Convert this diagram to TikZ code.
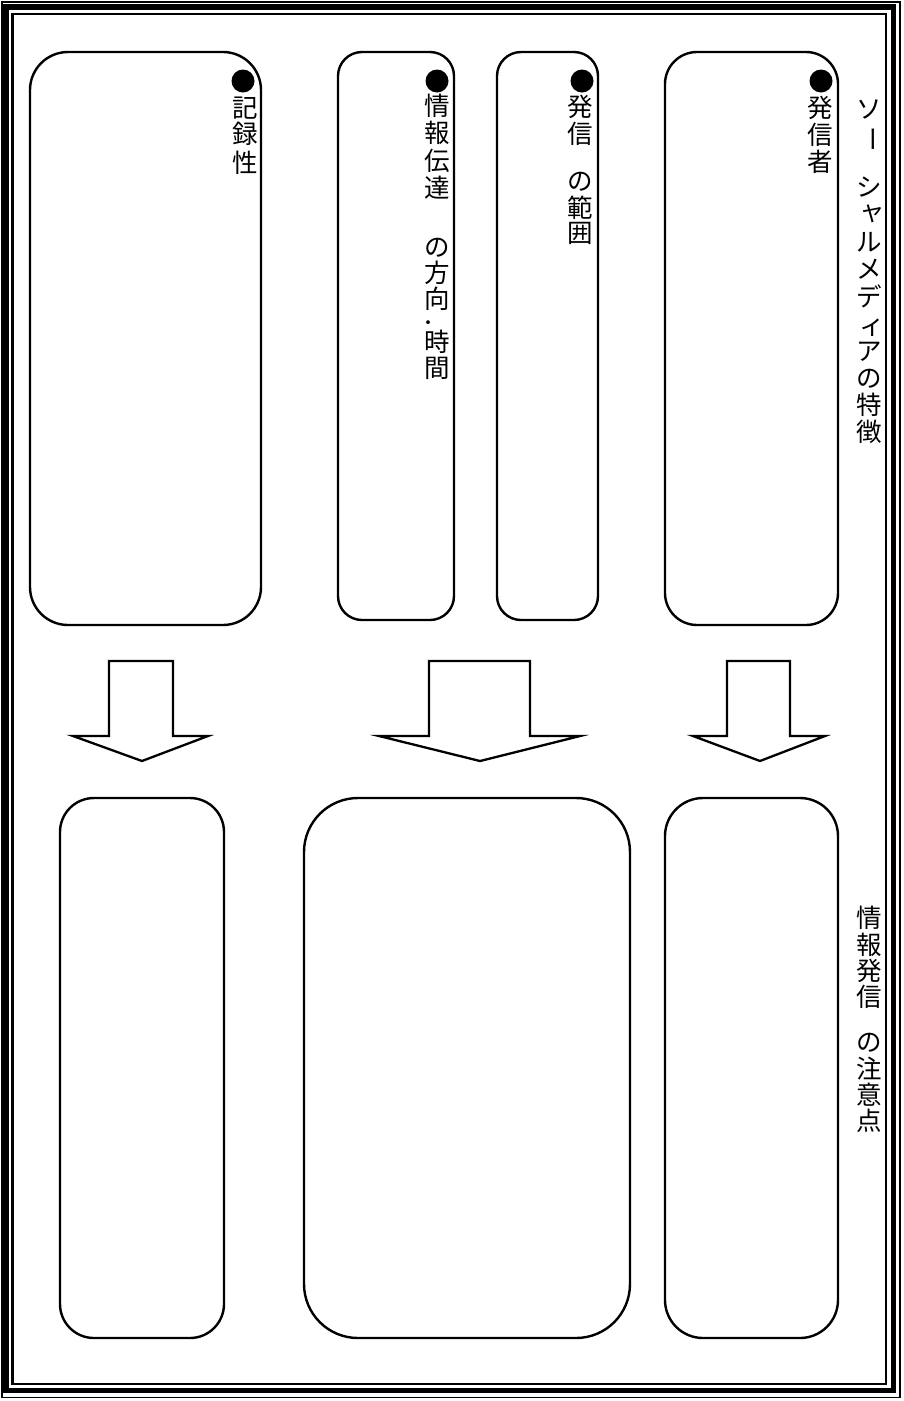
\documentclass[tikz,border=0pt]{standalone}
\usepackage{fontspec}
\newfontfamily\jp{Noto Sans CJK JP}
\tikzset{
  box/.style={draw, line width=2.4pt, rounded corners=#1, inner sep=0pt},
  vc/.style={font=\jp\fontsize{25.5}{25.5}\selectfont, inner sep=0pt, anchor=center},
  vcsmall/.style={font=\jp\fontsize{18}{18}\selectfont, inner sep=0pt, anchor=center},
  blockarrow/.style={draw, line width=2.3pt, line join=miter, fill=white},
  dotmark/.style={circle, fill=black, draw=none, inner sep=0pt, minimum size=23pt},
}
\begin{document}
\begin{tikzpicture}[x=1pt, y=-1pt]
\useasboundingbox (0,0) rectangle (904,1401);
% triple frame
\draw[line width=1.6pt] (1.8,1.8) rectangle (900,1397.5);
\draw[line width=5.5pt] (6.2,7.2) rectangle (893.5,1390.5);
\draw[line width=2.2pt] (12.5,14) rectangle (886,1384);
% top boxes
\node[box=38pt, minimum width=231pt, minimum height=573pt] (b1) at (145.5,338.5) {};
\node[box=24pt, minimum width=116pt, minimum height=568pt] (b2) at (396,336) {};
\node[box=24pt, minimum width=101pt, minimum height=568pt] (b3) at (547.5,336) {};
\node[box=32pt, minimum width=173pt, minimum height=573pt] (b4) at (751.5,338.5) {};
% bottom boxes
\node[box=34pt, minimum width=164pt, minimum height=540pt] (b5) at (142,1068) {};
\node[box=54pt, minimum width=326pt, minimum height=540pt] (b6) at (467,1068) {};
\node[box=38pt, minimum width=173pt, minimum height=540pt] (b7) at (751.5,1068) {};
% block arrows
\draw[blockarrow] (109,661) -- (173,661) -- (173,736) -- (208,736) -- (142,761) -- (73,736) -- (109,736) -- cycle;
\draw[blockarrow] (429,661) -- (530,661) -- (530,736) -- (580,736) -- (480,761) -- (379,736) -- (429,736) -- cycle;
\draw[blockarrow] (727,661) -- (790,661) -- (790,736) -- (825,736) -- (760,761) -- (693,736) -- (727,736) -- cycle;
% bullets
\node[dotmark] (d1) at (243,81) {};
\node[dotmark] (d2) at (437,81) {};
\node[dotmark] (d3) at (582,81) {};
\node[dotmark] (d4) at (821,81) {};
% column 1
\foreach \y/\c [count=\i] in {108/記,134/録,163/性}
  \node[vc] (ca\i) at (245,\y) {\c};
% column 2
\foreach \y/\c [count=\i] in {106/情,133/報,161/伝,188/達,248/の,273/方,299/向,342/時,368/間}
  \node[vc] (cb\i) at (437,\y) {\c};
\node[vcsmall] (cbdot) at (428,325) {・};
% column 3
\foreach \y/\c [count=\i] in {107/発,134/信,182/の,208/範,233/囲}
  \node[vc] (cc\i) at (580,\y) {\c};
% column 4
\foreach \y/\c [count=\i] in {108/発,135/信,162/者}
  \node[vc] (cd\i) at (820,\y) {\c};
% title top
\foreach \y/\c [count=\i] in {110/ソ,187/シ,242/ル,269/メ,296/デ,352/ア,379/の,405/特,432/徴}
  \node[vc] (ta\i) at (869,\y) {\c};
\node[vc] (tasmya) at (872,214) {ャ};
\node[vc] (tasmi) at (872,328) {ィ};
\node[vc, rotate=-90] (tabar) at (869,139) {ー};
% title bottom
\foreach \y/\c [count=\i] in {918/情,945/報,971/発,997/信,1043/の,1069/注,1095/意,1121/点}
  \node[vc] (tb\i) at (869,\y) {\c};
\end{tikzpicture}
\end{document}
